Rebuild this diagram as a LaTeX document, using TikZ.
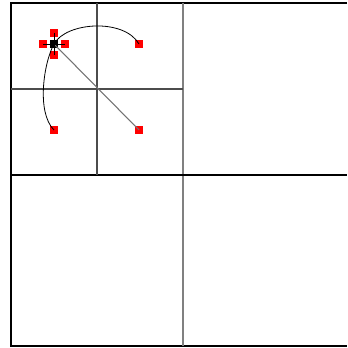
\documentclass[tikz,border=0pt]{standalone}
\usepackage{tikz}
\usetikzlibrary{positioning}

\begin{document}
\begin{tikzpicture}[
  x=0.75pt, y=-0.75pt,
  every node/.style={inner sep=0pt, outer sep=0pt},
  handle/.style={draw=none, fill=red, minimum size=5.5pt},
  selpt/.style={draw=none, fill=black, minimum size=5.5pt},
  frame/.style={black, line width=0.9pt},
  split/.style={black!70, line width=0.8pt},
  curve/.style={black, line width=0.6pt},
  guide/.style={black!55, line width=0.8pt}
]
  \useasboundingbox (0,0) rectangle (347,348);

  % --- quadrants ---
  \coordinate (tl) at (11,3);
  \coordinate (tr) at (347,3);
  \coordinate (bl) at (11,346);
  \coordinate (br) at (347,346);
  \draw[frame] (tr) -- (tl) -- (bl) -- (br);
  \coordinate (midT) at (183,3);
  \coordinate (midB) at (183,346);
  \coordinate (midL) at (11,175);
  \coordinate (midR) at (347,175);
  \draw[black!50, line width=1.5pt] (midT) -- (midB);
  \draw[frame] (midL) -- (midR);

  % --- sub quadrant ---
  \coordinate (subT) at (97,3);
  \coordinate (subB) at (97,175);
  \coordinate (subL) at (11,89);
  \coordinate (subR) at (183,89);
  \draw[split] (subT) -- (subB);
  \draw[split] (subL) -- (subR);

  % --- points ---
  \node[handle] (h1) at (43,44) {};
  \node[handle] (h2) at (65,44) {};
  \node[handle] (h3) at (54,33) {};
  \node[handle] (h4) at (54,55) {};
  \node[selpt]  (p0) at (54,44) {};
  \node[handle] (p1) at (139,44) {};
  \node[handle] (p2) at (54,130) {};
  \node[handle] (p3) at (139,130) {};

  % --- connectors ---
  \draw[curve] (p0.center) .. controls (66,22) and (124,18) .. (p1.center);
  \draw[curve] (p0.center) .. controls (44,62) and (36,112) .. (p2.center);
  \draw[guide] (p0.center) -- (p3.center);
  \draw[black, line width=0.5pt] (h1.center) -- (h2.center);
  \draw[black, line width=0.5pt] (h3.center) -- (h4.center);

\end{tikzpicture}
\end{document}
